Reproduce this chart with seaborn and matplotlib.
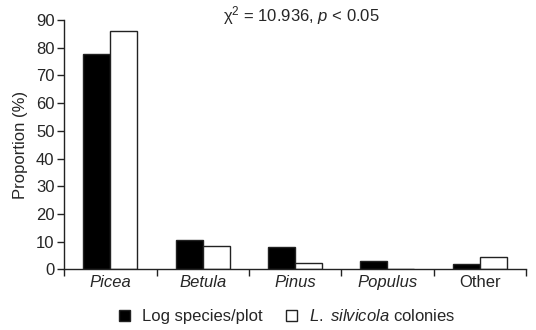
import matplotlib
matplotlib.use("Agg")
import matplotlib.pyplot as plt
import seaborn as sns
import pandas as pd
from matplotlib.patches import Patch

categories = ["Picea", "Betula", "Pinus", "Populus", "Other"]
italic_cats = [True, True, True, True, False]
log_species = [77.7, 10.4, 8.0, 3.1, 2.0]
colonies = [85.9, 8.3, 2.2, 0.0, 4.3]
series_names = ["Log species/plot", "L. silvicola colonies"]
yticks = [0, 10, 20, 30, 40, 50, 60, 70, 80, 90]

df = pd.DataFrame({
    "category": categories * 2,
    "series": [series_names[0]] * len(categories) + [series_names[1]] * len(categories),
    "value": log_species + colonies,
})

sns.set_theme(style="ticks")
plt.rcParams["font.family"] = ["Liberation Sans", "DejaVu Sans"]
plt.rcParams["mathtext.fontset"] = "custom"
plt.rcParams["mathtext.rm"] = "Liberation Sans"
plt.rcParams["mathtext.it"] = "Liberation Sans:italic"

FS = 12
fig = plt.figure(figsize=(5.36, 3.3), dpi=100)
ax = fig.add_axes([0.12, 0.184, 0.861, 0.755])

sns.barplot(data=df, x="category", y="value", hue="series", order=categories,
            hue_order=series_names, palette=["black", "white"], width=0.585,
            edgecolor="#222222", linewidth=1.0, ax=ax, legend=False, saturation=1)

ax.set_xlim(-0.5, 4.5)
ax.set_ylim(0, 90)
ax.set_yticks(yticks)
ax.set_xlabel("")
ax.set_ylabel("Proportion (%)", fontsize=FS, labelpad=6)
ax.tick_params(axis="y", labelsize=FS, length=5, width=1, color="#222222", pad=2)
ax.set_xticks(range(len(categories)))
ax.set_xticklabels(categories, fontsize=FS)
for lab, it in zip(ax.get_xticklabels(), italic_cats):
    lab.set_fontstyle("italic" if it else "normal")
ax.tick_params(axis="x", which="major", length=0, pad=4)
ax.set_xticks([i - 0.5 for i in range(len(categories) + 1)], minor=True)
ax.tick_params(axis="x", which="minor", length=5, width=1, color="#222222")
for s in ["top", "right"]:
    ax.spines[s].set_visible(False)
for s in ["left", "bottom"]:
    ax.spines[s].set_linewidth(1)
    ax.spines[s].set_color("#222222")

fig.text(0.563, 0.952, "χ$^2$ = 10.936, $p$ < 0.05", ha="center", va="center", fontsize=FS)

handles = [Patch(facecolor="black", edgecolor="#222222", linewidth=1),
           Patch(facecolor="white", edgecolor="#222222", linewidth=1)]
labels = ["Log species/plot", r"$L.$ $silvicola$ colonies"]
fig.legend(handles, labels, loc="center", bbox_to_anchor=(0.536, 0.042), ncol=2,
           frameon=False, fontsize=FS, handlelength=0.65, handleheight=0.65,
           handletextpad=0.75, columnspacing=1.4)

fig.savefig("out.png", dpi=100)
